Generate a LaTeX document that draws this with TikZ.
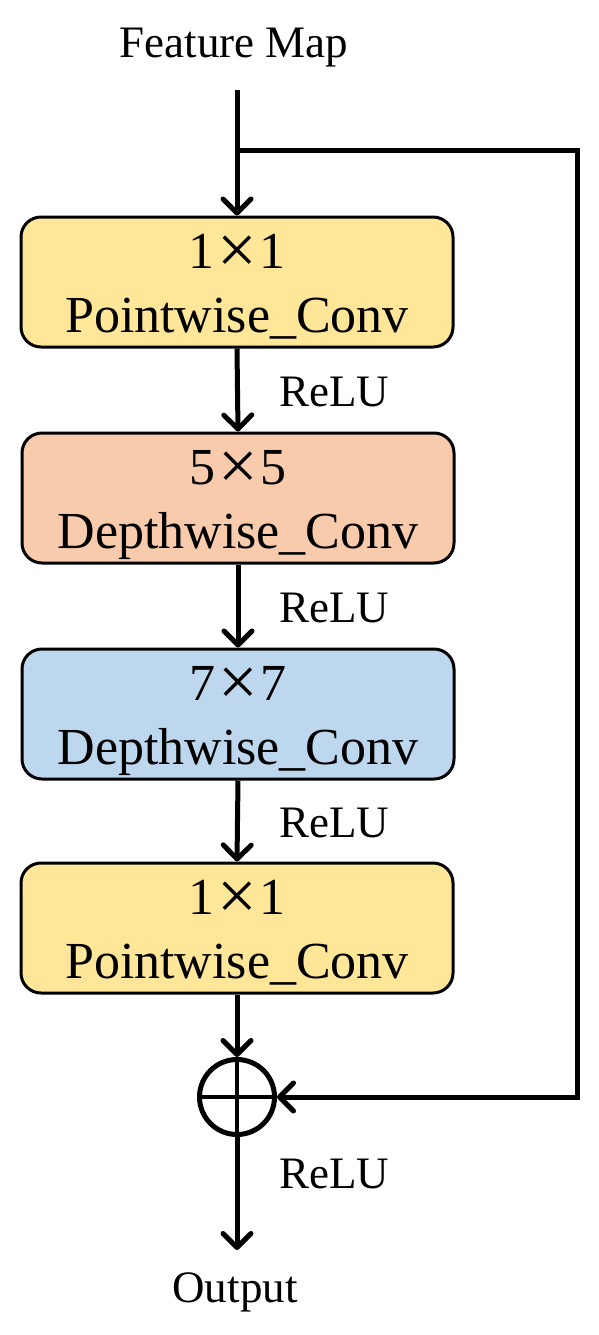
\documentclass[tikz,border=0pt]{standalone}
\usepackage{fontspec}
\usepackage{graphicx}
\setmainfont{Liberation Serif}
\usetikzlibrary{arrows.meta}
\definecolor{cyel}{HTML}{FFE699}
\definecolor{cpea}{HTML}{F8CBAD}
\definecolor{cblu}{HTML}{BDD7EE}
\newcommand{\mytimes}{\hspace{3pt}\raisebox{-5.5pt}{\scalebox{1.35}{×}}\hspace{3pt}}
\begin{document}
\begin{tikzpicture}[x=1pt,y=-1pt,
  txt/.style={font=\fontsize{45}{64}\selectfont, inner sep=0},
  blk/.style={draw, line width=3pt, rounded corners=20pt, minimum width=432pt,
    minimum height=130pt, inner sep=0, align=center, font=\fontsize{52}{64}\selectfont},
  conn/.style={line width=5pt, -{Straight Barb[length=14pt,width=28pt,round]}},
  wire/.style={line width=5pt}]
\useasboundingbox (0,0) rectangle (599,1335);
\node[txt, anchor=base] (fm) at (234,58) {Feature Map};
\node[blk, fill=cyel] (b1) at (237,282) {\rule{0pt}{51pt}1\mytimes 1\\Pointwise\_Conv\rule[-15pt]{0pt}{15pt}};
\node[blk, fill=cpea] (b2) at (238,498) {\rule{0pt}{51pt}5\mytimes 5\\Depthwise\_Conv\rule[-15pt]{0pt}{15pt}};
\node[blk, fill=cblu] (b3) at (238,714) {\rule{0pt}{51pt}7\mytimes 7\\Depthwise\_Conv\rule[-15pt]{0pt}{15pt}};
\node[blk, fill=cyel] (b4) at (237,928) {\rule{0pt}{51pt}1\mytimes 1\\Pointwise\_Conv\rule[-15pt]{0pt}{15pt}};
\node[circle, draw, line width=5pt, minimum size=75pt, inner sep=0] (sum) at (237,1097) {};
\draw[line width=4pt] (sum.north) -- (sum.south) (sum.west) -- (sum.east);
\node[txt, anchor=base west] (r1) at (279,406) {ReLU};
\node[txt, anchor=base west] (r2) at (279,622) {ReLU};
\node[txt, anchor=base west] (r3) at (279,837) {ReLU};
\node[txt, anchor=base west] (r4) at (279,1188) {ReLU};
\node[txt, anchor=base] (out) at (235,1302) {Output};
\coordinate (in) at (237,90);
\coordinate (split) at (237,150);
\coordinate (tr) at (577,150);
\coordinate (br) at (577,1097);
\coordinate (oc) at (237,1250);
\draw[conn] (in) -- (b1.north);
\draw[conn] (split) -- (tr) -- (br) -- (sum.east);
\draw[conn] (b1.south) -- (b2.north);
\draw[conn] (b2.south) -- (b3.north);
\draw[conn] (b3.south) -- (b4.north);
\draw[conn] (b4.south) -- (sum.north);
\draw[conn] (sum.south) -- (oc);
\end{tikzpicture}
\end{document}
